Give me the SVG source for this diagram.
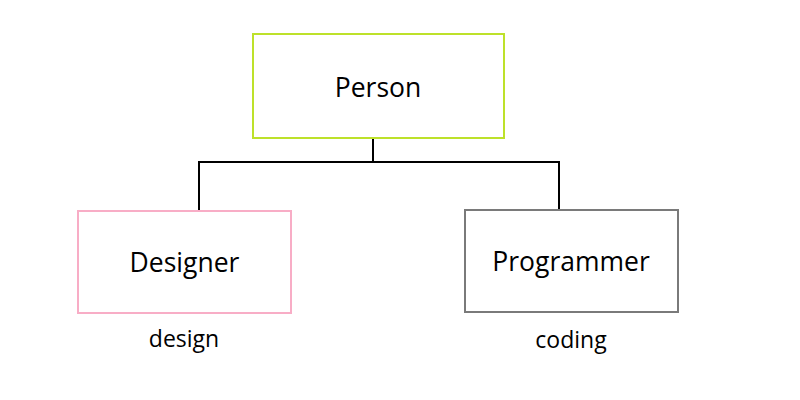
<svg xmlns="http://www.w3.org/2000/svg" width="800" height="400" viewBox="0 0 800 400">
<style>
.box{fill:#fff;stroke-width:2}
.t{font-family:"Open Sans","Noto Sans",sans-serif;fill:#000;text-anchor:middle}
.big{font-size:26.5px}
.small{font-size:23px}
.conn{fill:none;stroke:#000;stroke-width:2}
</style>
<rect width="800" height="400" fill="#fff"/>
<g id="connectors">
<polyline class="conn" points="373,139 373,162"/>
<polyline class="conn" points="199,211 199,162 559,162 559,210"/>
</g>
<g id="person">
<rect class="box" x="253" y="34" width="251" height="104" stroke="#bde12a"/>
<text class="t big" x="378" y="97">Person</text>
</g>
<g id="designer">
<rect class="box" x="78" y="211" width="213" height="102" stroke="#f8adc6"/>
<text class="t big" x="184.5" y="272">Designer</text>
<text class="t small" x="184" y="347">design</text>
</g>
<g id="programmer">
<rect class="box" x="465" y="210" width="213" height="102" stroke="#7a7a7a"/>
<text class="t big" x="571" y="271">Programmer</text>
<text class="t small" x="571" y="348">coding</text>
</g>
</svg>
